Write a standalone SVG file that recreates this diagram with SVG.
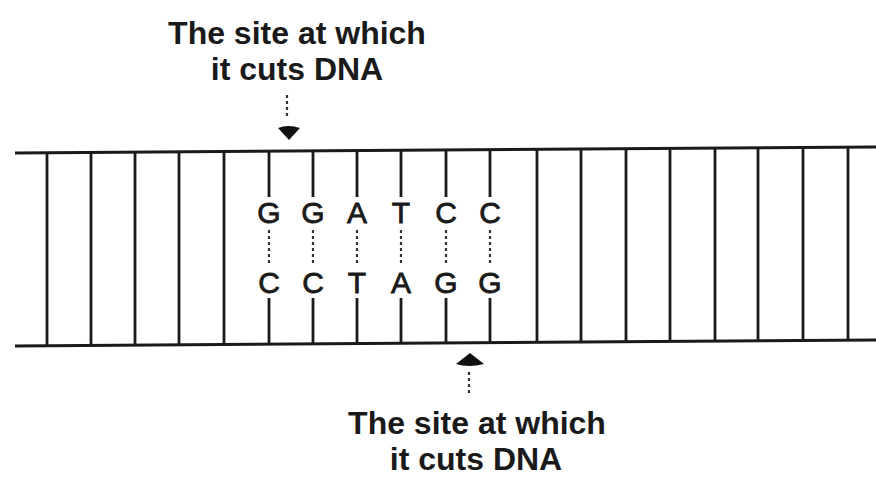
<svg xmlns="http://www.w3.org/2000/svg" width="876" height="477" viewBox="0 0 876 477">
<style>
.strand{stroke:#1a1a1a;stroke-width:3;fill:none}
.rung{stroke:#1a1a1a;stroke-width:2.8}
.dot{stroke:#333;stroke-width:2.2;stroke-dasharray:3 3}
.lbl{font-family:"Liberation Sans",Arial,sans-serif;font-weight:bold;font-size:32px;fill:#1a1a1a;text-anchor:middle}
.base{font-family:"Liberation Sans",Arial,sans-serif;font-size:30px;fill:#1a1a1a;stroke:#1a1a1a;stroke-width:0.8;text-anchor:middle}
.head{fill:#111}
</style>
<rect width="876" height="477" fill="#fff"/>
<g id="dna">
<line class="strand" x1="15" y1="153" x2="876" y2="147"/>
<line class="strand" x1="15" y1="346" x2="876" y2="340"/>
<g id="rungs">
<line class="rung" x1="47" y1="153" x2="47" y2="346"/>
<line class="rung" x1="91" y1="152" x2="91" y2="345"/>
<line class="rung" x1="135" y1="152" x2="135" y2="345"/>
<line class="rung" x1="179" y1="152" x2="179" y2="345"/>
<line class="rung" x1="224" y1="151" x2="224" y2="344"/>
<line class="rung" x1="537" y1="149" x2="537" y2="342"/>
<line class="rung" x1="581" y1="149" x2="581" y2="342"/>
<line class="rung" x1="626" y1="149" x2="626" y2="342"/>
<line class="rung" x1="670" y1="148" x2="670" y2="341"/>
<line class="rung" x1="715" y1="148" x2="715" y2="341"/>
<line class="rung" x1="758" y1="148" x2="758" y2="341"/>
<line class="rung" x1="803" y1="147" x2="803" y2="340"/>
<line class="rung" x1="848" y1="147" x2="848" y2="340"/>
</g>
<g id="pairs">
<line class="rung" x1="269" y1="151" x2="269" y2="197"/>
<line class="rung" x1="313" y1="151" x2="313" y2="197"/>
<line class="rung" x1="357" y1="150" x2="357" y2="197"/>
<line class="rung" x1="401" y1="150" x2="401" y2="197"/>
<line class="rung" x1="446" y1="150" x2="446" y2="197"/>
<line class="rung" x1="490" y1="150" x2="490" y2="197"/>
<line class="dot" x1="269" y1="230" x2="269" y2="265"/>
<line class="dot" x1="313" y1="230" x2="313" y2="265"/>
<line class="dot" x1="357" y1="230" x2="357" y2="265"/>
<line class="dot" x1="401" y1="230" x2="401" y2="265"/>
<line class="dot" x1="446" y1="230" x2="446" y2="265"/>
<line class="dot" x1="490" y1="230" x2="490" y2="265"/>
<line class="rung" x1="269" y1="298" x2="269" y2="345"/>
<line class="rung" x1="313" y1="298" x2="313" y2="345"/>
<line class="rung" x1="357" y1="298" x2="357" y2="344"/>
<line class="rung" x1="401" y1="298" x2="401" y2="344"/>
<line class="rung" x1="446" y1="298" x2="446" y2="344"/>
<line class="rung" x1="490" y1="298" x2="490" y2="344"/>
</g>
<g id="bases">
<text class="base" x="269" y="223">G</text>
<text class="base" x="313" y="223">G</text>
<text class="base" x="357" y="223">A</text>
<text class="base" x="401" y="223">T</text>
<text class="base" x="446" y="223">C</text>
<text class="base" x="490" y="223">C</text>
<text class="base" x="269" y="293">C</text>
<text class="base" x="313" y="293">C</text>
<text class="base" x="357" y="293">T</text>
<text class="base" x="401" y="293">A</text>
<text class="base" x="446" y="293">G</text>
<text class="base" x="490" y="293">G</text>
</g>
</g>
<g id="label-top">
<text class="lbl" x="297" y="44">The site at which</text>
<text class="lbl" x="297" y="80">it cuts DNA</text>
</g>
<g id="label-bottom">
<text class="lbl" x="477" y="434">The site at which</text>
<text class="lbl" x="476" y="470">it cuts DNA</text>
</g>
<g id="connectors">
<line class="dot" x1="287" y1="95" x2="287" y2="118" stroke-width="1.5"/>
<path class="head" d="M278,128 Q288,124 300,128 L289,140 Z"/>
<line class="dot" x1="469" y1="372" x2="469" y2="396" stroke-width="1.5"/>
<path class="head" d="M456,364 Q469,368 484,364 L470,353 Z"/>
</g>
</svg>
